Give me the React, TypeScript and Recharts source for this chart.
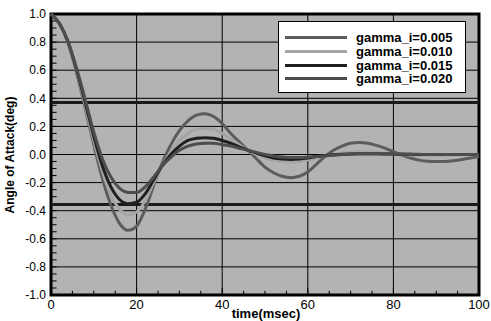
import React from "react";
import {
  LineChart,
  Line,
  XAxis,
  YAxis,
  CartesianGrid,
  ReferenceLine,
  ReferenceArea,
  Legend,
} from "recharts";

// time (msec)
const time = [
  0, 2, 4, 6, 8, 10, 12, 14, 16, 18, 20, 22, 24, 26, 28, 30, 32, 34, 36, 38, 40,
  42, 44, 46, 48, 50, 52, 54, 56, 58, 60, 62, 64, 66, 68, 70, 72, 74, 76, 78, 80,
  82, 84, 86, 88, 90, 92, 94, 96, 98, 100,
];

// angle of attack (deg), one array per gamma_i
const g005 = [
  1.0, 0.93, 0.79, 0.58, 0.33, 0.07, -0.17, -0.36, -0.49, -0.54, -0.51, -0.39,
  -0.22, -0.06, 0.07, 0.17, 0.24, 0.28, 0.29, 0.27, 0.22, 0.15, 0.09, 0.03,
  -0.03, -0.09, -0.13, -0.155, -0.165, -0.155, -0.125, -0.07, -0.015, 0.03,
  0.06, 0.08, 0.085, 0.08, 0.065, 0.045, 0.02, -0.005, -0.025, -0.04, -0.048,
  -0.05, -0.05, -0.045, -0.035, -0.025, -0.015,
];
const g010 = [
  1.0, 0.93, 0.79, 0.59, 0.35, 0.1, -0.12, -0.29, -0.39, -0.43, -0.41, -0.33,
  -0.2, -0.08, 0.02, 0.1, 0.15, 0.18, 0.185, 0.18, 0.15, 0.11, 0.07, 0.03, 0.0,
  -0.025, -0.04, -0.05, -0.055, -0.05, -0.04, -0.025, -0.01, 0.0, 0.01, 0.015,
  0.018, 0.018, 0.015, 0.01, 0.005, 0.0, -0.004, -0.006, -0.007, -0.007,
  -0.006, -0.004, -0.002, 0.0, 0.0,
];
const g015 = [
  1.0, 0.93, 0.8, 0.6, 0.37, 0.13, -0.08, -0.23, -0.32, -0.35, -0.34, -0.28,
  -0.18, -0.08, 0.0, 0.06, 0.1, 0.115, 0.12, 0.115, 0.1, 0.08, 0.055, 0.03,
  0.01, -0.01, -0.025, -0.032, -0.035, -0.032, -0.025, -0.015, -0.008, -0.002,
  0.002, 0.004, 0.005, 0.005, 0.005, 0.004, 0.003, 0.002, 0.001, 0.0, 0.0, 0.0,
  0.0, 0.0, 0.0, 0.0, 0.0,
];
const g020 = [
  1.0, 0.93, 0.8, 0.61, 0.39, 0.16, -0.03, -0.16, -0.24, -0.27, -0.27, -0.23,
  -0.16, -0.08, -0.02, 0.03, 0.06, 0.075, 0.08, 0.08, 0.07, 0.06, 0.045, 0.03,
  0.015, 0.0, -0.01, -0.018, -0.022, -0.022, -0.02, -0.015, -0.01, -0.005,
  0.0, 0.003, 0.005, 0.006, 0.006, 0.005, 0.004, 0.003, 0.002, 0.001, 0.0, 0.0,
  0.0, 0.0, 0.0, 0.0, 0.0,
];

const seriesNames = ["gamma_i=0.005", "gamma_i=0.010", "gamma_i=0.015", "gamma_i=0.020"];
const seriesKeys = ["g005", "g010", "g015", "g020"];
const seriesColors = ["#5c5c5c", "#a5a5a5", "#1f1f1f", "#4d4d4d"];

const xTicks = [0, 20, 40, 60, 80, 100];
const yTicks = [-1, -0.8, -0.6, -0.4, -0.2, 0, 0.2, 0.4, 0.6, 0.8, 1];
const xMinor = [5, 10, 15, 20, 25, 30, 35, 40, 45, 50, 55, 60, 65, 70, 75, 80, 85, 90, 95];
const yMinor = Array.from({ length: 39 }, (_, i) => -0.95 + i * 0.05);

// bounds drawn as thick horizontal lines
const upperBound = 0.37;
const lowerBound = -0.355;

const data = time.map((t, i) => ({
  t,
  g005: g005[i],
  g010: g010[i],
  g015: g015[i],
  g020: g020[i],
}));

const font = "Arial, 'Liberation Sans', sans-serif";

const LegendBox = () => (
  <div
    style={{
      background: "#fff",
      border: "1px solid #000",
      boxSizing: "border-box",
      width: 188,
      height: 72,
      padding: "9px 0 0 6px",
      fontFamily: font,
    }}
  >
    {seriesNames.map((name, i) => (
      <div key={name} style={{ display: "flex", alignItems: "center", height: 13.7 }}>
        <div style={{ width: 62, height: 3, background: seriesColors[i] }} />
        <span style={{ marginLeft: 9, fontWeight: "bold", fontSize: 13, lineHeight: "13px" }}>
          {name}
        </span>
      </div>
    ))}
  </div>
);

export default function App() {
  return (
    <div style={{ position: "absolute", left: 0, top: 0, background: "#fff" }}>
      <LineChart
        width={491}
        height={321}
        data={data}
        margin={{ top: 14, right: 12, left: 0, bottom: 0 }}
      >
        <CartesianGrid fill="#b3b3b3" stroke="#000" strokeWidth={1} />
        <XAxis
          dataKey="t"
          type="number"
          domain={[0, 100]}
          ticks={xTicks}
          height={26}
          tickLine={false}
          axisLine={false}
          tickSize={2}
          tickMargin={3}
          tick={{ fill: "#000", fontSize: 13, fontFamily: font }}
          label={{
            content: () => (
              <text
                x={266}
                y={318}
                textAnchor="middle"
                fontFamily={font}
                fontWeight="bold"
                fontSize={13}
                fill="#000"
              >
                time(msec)
              </text>
            ),
          }}
        />
        <YAxis
          type="number"
          domain={[-1, 1]}
          ticks={yTicks}
          width={51}
          tickLine={false}
          axisLine={false}
          tickSize={3}
          tickMargin={2}
          tickFormatter={(v: number) => v.toFixed(1)}
          tick={{ fill: "#000", fontSize: 12, fontFamily: font }}
          label={{
            content: () => (
              <text
                x={14}
                y={155}
                transform="rotate(-90 14 155)"
                textAnchor="middle"
                fontFamily={font}
                fontWeight="bold"
                fontSize={12}
                fill="#000"
              >
                Angle of Attack(deg)
              </text>
            ),
          }}
        />
        {/* inward minor ticks on the left and bottom axes */}
        {yMinor.map((v) => (
          <ReferenceLine
            key={"ym" + v}
            segment={[
              { x: 0, y: v },
              { x: 1.3, y: v },
            ]}
            stroke="#000"
            strokeWidth={1}
          />
        ))}
        {xMinor.map((v) => (
          <ReferenceLine
            key={"xm" + v}
            segment={[
              { x: v, y: -1 },
              { x: v, y: v % 20 === 0 ? -0.95 : -0.97 },
            ]}
            stroke="#000"
            strokeWidth={1}
          />
        ))}
        <ReferenceLine y={upperBound} stroke="#1a1a1a" strokeWidth={3} />
        <ReferenceLine y={lowerBound} stroke="#1a1a1a" strokeWidth={3} />
        {seriesKeys.map((k, i) => (
          <Line
            key={k}
            dataKey={k}
            name={seriesNames[i]}
            type="monotone"
            stroke={seriesColors[i]}
            strokeWidth={3}
            dot={false}
            isAnimationActive={false}
          />
        ))}
        <ReferenceArea
          x1={0}
          x2={100}
          y1={-1}
          y2={1}
          fill="none"
          stroke="#000"
          strokeWidth={3}
          ifOverflow="visible"
        />
        <Legend
          layout="horizontal"
          verticalAlign="middle"
          align="center"
          wrapperStyle={{ left: 278, top: 21, width: 188 }}
          content={() => <LegendBox />}
        />
      </LineChart>
    </div>
  );
}
